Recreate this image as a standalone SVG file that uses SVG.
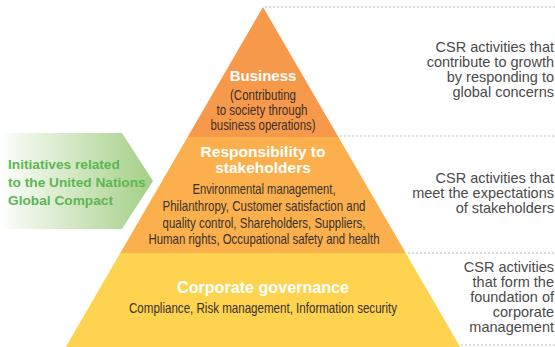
<svg xmlns="http://www.w3.org/2000/svg" width="555" height="347" viewBox="0 0 555 347">
<defs>
<linearGradient id="gArrow" x1="0" y1="0" x2="1" y2="0">
<stop offset="0" stop-color="#ffffff"/>
<stop offset="0.08" stop-color="#f6faf2"/>
<stop offset="1" stop-color="#a3cf86"/>
</linearGradient>
<style>
.dot{stroke:#b8b8b8;stroke-width:1;stroke-dasharray:2 2;fill:none}
.head{font-family:"Liberation Sans",Arial,sans-serif;font-weight:bold;fill:#ffffff;text-anchor:middle}
.sub{font-family:"Liberation Sans",Arial,sans-serif;font-size:14.5px;fill:#3a302a;text-anchor:middle}
.note{font-family:"Liberation Sans",Arial,sans-serif;font-size:14.5px;fill:#4a4a4a;text-anchor:end}
.green{font-family:"Liberation Sans",Arial,sans-serif;font-size:13.7px;font-weight:bold;fill:#5db653}
</style>
</defs>
<rect width="555" height="347" fill="#ffffff"/>
<g id="connectors">
<line class="dot" x1="265" y1="7" x2="555" y2="7"/>
<line class="dot" x1="340" y1="136" x2="555" y2="136"/>
<line class="dot" x1="408" y1="253" x2="555" y2="253"/>
<line class="dot" x1="461" y1="345" x2="555" y2="345"/>
</g>
<g id="business">
<polygon points="263,7 338.4,137 187.6,137" fill="#f7994b"/>
<text class="head" x="263" y="81" font-size="15">Business</text>
<text class="sub" x="263" y="100" textLength="66" lengthAdjust="spacingAndGlyphs">(Contributing</text>
<text class="sub" x="262" y="115" textLength="91" lengthAdjust="spacingAndGlyphs">to society through</text>
<text class="sub" x="263" y="130" textLength="105" lengthAdjust="spacingAndGlyphs">business operations)</text>
</g>
<g id="stakeholders">
<polygon points="187.6,137 338.4,137 405.7,253 120.3,253" fill="#fbb04d"/>
<text class="head" x="263" y="157" font-size="15.5">Responsibility to</text>
<text class="head" x="263" y="173" font-size="15.5">stakeholders</text>
<text class="sub" x="264" y="194" textLength="143" lengthAdjust="spacingAndGlyphs">Environmental management,</text>
<text class="sub" x="264" y="211" textLength="203" lengthAdjust="spacingAndGlyphs">Philanthropy, Customer satisfaction and</text>
<text class="sub" x="264" y="227.5" textLength="203" lengthAdjust="spacingAndGlyphs">quality control, Shareholders, Suppliers,</text>
<text class="sub" x="264" y="244" textLength="231" lengthAdjust="spacingAndGlyphs">Human rights, Occupational safety and health</text>
</g>
<g id="governance">
<polygon points="120.3,253 405.7,253 460.2,347 65.8,347" fill="#fdd34f"/>
<text class="head" x="263" y="293" font-size="16" textLength="172" lengthAdjust="spacingAndGlyphs">Corporate governance</text>
<text class="sub" x="263" y="313" textLength="268" lengthAdjust="spacingAndGlyphs">Compliance, Risk management, Information security</text>
</g>
<g id="ungc">
<polygon points="0,133 122,133 153,181 122,229 0,229" fill="url(#gArrow)"/>
<text class="green" x="8" y="169">Initiatives related</text>
<text class="green" x="8" y="187">to the United Nations</text>
<text class="green" x="8" y="205">Global Compact</text>
</g>
<g id="note-growth">
<text class="note" x="554" y="52">CSR activities that</text>
<text class="note" x="554" y="67">contribute to growth</text>
<text class="note" x="554" y="82">by responding to</text>
<text class="note" x="554" y="97">global concerns</text>
</g>
<g id="note-expectations">
<text class="note" x="554" y="183">CSR activities that</text>
<text class="note" x="554" y="198">meet the expectations</text>
<text class="note" x="554" y="213">of stakeholders</text>
</g>
<g id="note-foundation">
<text class="note" x="554" y="272">CSR activities</text>
<text class="note" x="554" y="287">that form the</text>
<text class="note" x="554" y="302">foundation of</text>
<text class="note" x="554" y="317">corporate</text>
<text class="note" x="554" y="332">management</text>
</g>
</svg>
